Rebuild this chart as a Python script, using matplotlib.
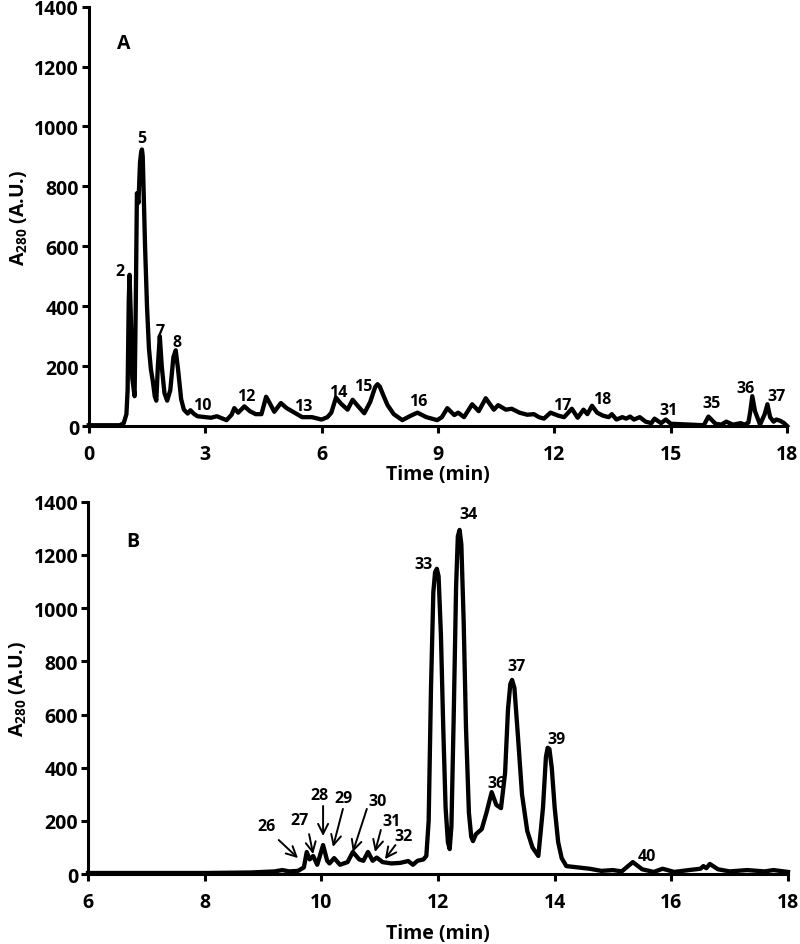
import matplotlib
matplotlib.use('Agg')
import matplotlib.pyplot as plt

plt.rcParams['font.family'] = ['Open Sans', 'DejaVu Sans']
plt.rcParams['font.weight'] = 'bold'
plt.rcParams['mathtext.fontset'] = 'custom'
plt.rcParams['mathtext.rm'] = 'Open Sans:bold'
plt.rcParams['mathtext.bf'] = 'Open Sans:bold'
plt.rcParams['mathtext.it'] = 'Open Sans:bold'

# panel A chromatogram (time in min, A280)
time_a = [0.0, 0.8, 0.9, 0.97, 1.0, 1.03, 1.05, 1.08, 1.12, 1.18, 1.21, 1.24, 1.28, 1.32, 1.35, 1.37,
          1.39, 1.41, 1.45, 1.5, 1.55, 1.6, 1.65, 1.7, 1.74, 1.78, 1.83, 1.88, 1.95, 2.02, 2.1, 2.18,
          2.24, 2.3, 2.38, 2.45, 2.55, 2.62, 2.7, 2.8, 3.0, 3.15, 3.3, 3.45, 3.55, 3.68, 3.75,
          3.85, 4.01, 4.15, 4.3, 4.45, 4.57, 4.65, 4.78, 4.95, 5.1, 5.3, 5.5, 5.75, 5.9, 6.0,
          6.15, 6.25, 6.37, 6.5, 6.67, 6.8, 6.95, 7.1, 7.25, 7.38, 7.44, 7.5, 7.6, 7.7, 7.86, 8.08, 8.3,
          8.47, 8.7, 8.98, 9.1, 9.24, 9.42, 9.52, 9.67, 9.88, 10.05, 10.23, 10.44, 10.55, 10.75,
          10.9, 11.1, 11.3, 11.47, 11.6, 11.73, 11.9, 12.1, 12.25, 12.45, 12.6, 12.75, 12.85,
          12.97, 13.1, 13.25, 13.4, 13.48, 13.6, 13.75, 13.85, 13.95, 14.05, 14.2, 14.35, 14.5,
          14.58, 14.75, 14.87, 15.0, 15.5, 15.85, 15.97, 16.15, 16.3, 16.43, 16.6, 16.8, 16.9,
          17.0, 17.05, 17.1, 17.17, 17.3, 17.42, 17.49, 17.56, 17.65, 17.72, 17.82, 17.92, 18.0]
abs_a = [3, 3, 10, 40, 120, 420, 505, 380, 160, 100, 400, 777, 745, 880, 915, 923,
         900, 800, 600, 400, 260, 190, 150, 100, 85, 200, 300, 200, 110, 85, 120, 230,
         253, 190, 90, 55, 42, 53, 42, 33, 30, 28, 33, 25, 20, 38, 60,
         45, 66, 50, 40, 40, 98, 80, 48, 77, 60, 45, 30, 30, 25, 22,
         30, 45, 95, 75, 55, 88, 65, 43, 80, 130, 140, 132, 100, 70, 40, 20, 35,
         45, 30, 20, 30, 60, 37, 45, 30, 73, 50, 93, 55, 70, 55,
         58, 45, 38, 40, 30, 25, 45, 35, 30, 58, 28, 55, 40,
         68, 45, 35, 30, 40, 22, 30, 25, 32, 22, 30, 15, 10,
         25, 10, 22, 8, 5, 3, 32, 8, 5, 15, 5, 10, 5,
         12, 50, 100, 50, 5, 40, 73, 30, 15, 22, 18, 10, 0]

# panel B chromatogram
time_b = [6.0, 8.0, 8.8, 9.2, 9.33, 9.45, 9.6, 9.7, 9.75, 9.8, 9.86, 9.93, 10.03, 10.1, 10.14,
          10.22, 10.32, 10.45, 10.54, 10.65, 10.72, 10.8, 10.88, 10.95, 11.05, 11.2, 11.35,
          11.49, 11.57, 11.65, 11.75, 11.8, 11.84, 11.88, 11.92, 11.95, 11.98, 12.01, 12.05, 12.09,
          12.13, 12.17, 12.2, 12.23, 12.27, 12.31, 12.34, 12.37, 12.4, 12.44, 12.48, 12.53, 12.57,
          12.6, 12.65, 12.75, 12.83, 12.92, 13.0, 13.08, 13.15, 13.2, 13.24, 13.27, 13.31, 13.37,
          13.44, 13.53, 13.62, 13.72, 13.8, 13.85, 13.88, 13.91, 13.95, 14.0, 14.06, 14.12, 14.2,
          14.4, 14.6, 14.8, 15.0, 15.15, 15.34, 15.5, 15.7, 15.85, 16.05, 16.3, 16.5, 16.55, 16.6,
          16.66, 16.8, 17.0, 17.3, 17.6, 17.75, 18.0]
abs_b = [4, 4, 6, 10, 15, 10, 12, 25, 83, 55, 68, 35, 109, 50, 40,
         60, 35, 45, 83, 55, 50, 83, 50, 62, 45, 40, 42,
         49, 35, 50, 55, 68, 200, 700, 1060, 1135, 1148, 1120, 900, 550,
         250, 120, 94, 180, 600, 1080, 1270, 1294, 1240, 950, 550, 230, 140,
         124, 150, 169, 230, 308, 260, 248, 380, 620, 715, 730, 700, 520,
         300, 162, 100, 68, 250, 440, 475, 470, 400, 250, 120, 60, 30,
         25, 20, 12, 15, 10, 45, 18, 8, 20, 8, 15, 20, 30, 22,
         38, 18, 10, 15, 10, 15, 8]

# peak labels
labels_a = ['2', '5', '7', '8', '10', '12', '13', '14', '15', '16', '17', '18', '31', '35', '36', '37']
lab_t_a = [0.80, 1.36, 1.83, 2.27, 2.93, 4.06, 5.53, 6.43, 7.07, 8.49, 12.21, 13.22, 14.94, 16.05, 16.92, 17.72]
lab_v_a = [517, 963, 317, 280, 70, 100, 67, 113, 133, 83, 70, 90, 53, 77, 127, 100]

labels_b = ['33', '34', '36', '37', '39', '40']
lab_t_b = [11.76, 12.53, 13.0, 13.35, 14.04, 15.58]
lab_v_b = [1166, 1355, 342, 783, 508, 68]

# arrowed labels in panel B
arrow_labels = ['26', '27', '28', '29', '30', '31', '32']
arrow_text_t = [9.06, 9.63, 9.96, 10.38, 10.97, 11.21, 11.41]
arrow_text_v = [181, 203, 297, 286, 275, 199, 143]
arrow_from_t = [9.27, 9.79, 10.03, 10.37, 10.78, 11.02, 11.27]
arrow_from_v = [128, 150, 256, 245, 245, 166, 109]
arrow_to_t = [9.60, 9.86, 10.03, 10.20, 10.54, 10.92, 11.09]
arrow_to_v = [60, 75, 143, 102, 83, 83, 56]

fig = plt.figure(figsize=(8, 9.45), dpi=100)
ax1 = fig.add_axes([0.111, 0.548, 0.873, 0.444])
ax2 = fig.add_axes([0.110, 0.074, 0.875, 0.394])


def style_axis(ax):
    for side in ['top', 'right']:
        ax.spines[side].set_visible(False)
    for side in ['left', 'bottom']:
        ax.spines[side].set_linewidth(2.2)
    ax.tick_params(direction='out', width=2.2, length=5, labelsize=14)
    ax.tick_params(axis='y', pad=2)
    ax.tick_params(axis='x', pad=8)
    ax.set_ylim(0, 1400)
    ax.set_yticks(range(0, 1401, 200))
    ax.set_ylabel(r'A$_{280}$ (A.U.)', fontsize=14, fontweight='bold', labelpad=3)


ax1.plot(time_a, abs_a, color='black', lw=3.1, solid_joinstyle='round', clip_on=False)
style_axis(ax1)
ax1.set_xlim(0, 18)
ax1.set_xticks(range(0, 19, 3))
ax1.set_xlabel('Time (min)', fontsize=14, fontweight='bold', labelpad=0)
ax1.text(0.9, 1280, 'A', fontsize=14, fontweight='bold', ha='center', va='center')
for lab, t, v in zip(labels_a, lab_t_a, lab_v_a):
    ax1.text(t, v, lab, fontsize=11.5, fontweight='bold', ha='center', va='center')

ax2.plot(time_b, abs_b, color='black', lw=3.1, solid_joinstyle='round', clip_on=False)
style_axis(ax2)
ax2.set_xlim(6, 18)
ax2.set_xticks(range(6, 19, 2))
ax2.set_xlabel('Time (min)', fontsize=14, fontweight='bold', labelpad=8)
ax2.text(6.77, 1253, 'B', fontsize=14, fontweight='bold', ha='center', va='center')
for lab, t, v in zip(labels_b, lab_t_b, lab_v_b):
    ax2.text(t, v, lab, fontsize=11.5, fontweight='bold', ha='center', va='center')
for i, lab in enumerate(arrow_labels):
    ax2.text(arrow_text_t[i], arrow_text_v[i], lab, fontsize=11.5, fontweight='bold',
             ha='center', va='center')
    ax2.annotate('', xy=(arrow_to_t[i], arrow_to_v[i]),
                 xytext=(arrow_from_t[i], arrow_from_v[i]),
                 arrowprops=dict(arrowstyle='->', lw=1.4, color='black',
                                 mutation_scale=18, shrinkA=0, shrinkB=0))

plt.savefig('out.png', dpi=100)
